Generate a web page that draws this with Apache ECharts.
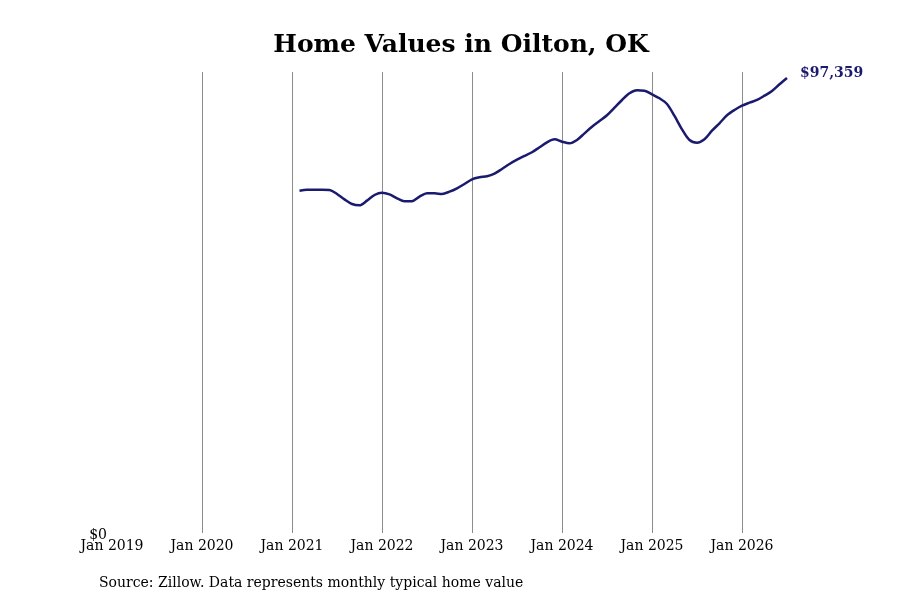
<!DOCTYPE html>
<html>
<head>
<meta charset="utf-8">
<title>Home Values in Oilton, OK</title>
<script src="https://cdn.jsdelivr.net/npm/echarts@6/dist/echarts.min.js"></script>
<style>
  html, body { margin: 0; padding: 0; background: #fff; }
  #chart { width: 900px; height: 600px; }
</style>
</head>
<body>
<div id="chart"></div>
<script>
// 年份刻度标签 (x 轴按月计数, 0 = Jan 2019)
const yearLabels = ['Jan 2019', 'Jan 2020', 'Jan 2021', 'Jan 2022', 'Jan 2023', 'Jan 2024', 'Jan 2025', 'Jan 2026'];

// 第一个数据点的月份序号 (Feb 2021)
const startMonth = 25;

// 每月典型房价 (Feb 2021 - Jul 2026)
const homeValues = [
    73250, 73470, 73470, 73470, 73400, 72550, 71400, 70400, 70130, 71120, 72330,
    72830, 72480, 71620, 70980, 71000, 71970, 72690, 72690, 72550, 73040, 73760, 74690,
    75690, 76120, 76330, 76900, 77900, 78970, 79900, 80680, 81470, 82540, 83610, 84250,
    83740, 83390, 84100, 85530, 86950, 88170, 89390, 91010, 92660, 94090, 94730, 94660,
    93880, 93020, 91800, 89240, 86390, 84100, 83530, 84250, 86090, 87680, 89390, 90520,
    91440, 92080, 92660, 93580, 94590, 96020, 97359
];

document.addEventListener('DOMContentLoaded', function() {
    initHomeValueChart();
});

function initHomeValueChart() {
    const chart = echarts.init(document.getElementById('chart'));

    const seriesData = homeValues.map((v, i) => [startMonth + i, v]);
    const lastMonth = startMonth + homeValues.length - 1;

    const option = {
        backgroundColor: '#fff',
        animation: false,
        title: [{
            text: 'Home Values in Oilton, OK',
            left: 456,
            top: 28,
            textAlign: 'center',
            textStyle: {
                fontFamily: 'DejaVu Serif',
                fontWeight: 'bold',
                fontSize: 25,
                color: '#000'
            }
        }, {
            text: 'Source: Zillow. Data represents monthly typical home value',
            left: 94,
            top: 571,
            textStyle: {
                fontFamily: 'DejaVu Serif',
                fontWeight: 'normal',
                fontSize: 14,
                color: '#000'
            }
        }],
        grid: {
            left: 112,
            right: 900 - 787,
            top: 72,
            bottom: 600 - 533
        },
        xAxis: {
            type: 'value',
            min: 0,
            max: lastMonth,
            interval: 12,
            axisLine: { show: false },
            axisTick: { show: false },
            axisLabel: {
                fontFamily: 'DejaVu Serif',
                fontSize: 14,
                color: '#000',
                margin: 6,
                formatter: function(v) {
                    return v % 12 === 0 ? (yearLabels[v / 12] || '') : '';
                }
            },
            splitLine: {
                show: true,
                showMinLine: false,
                showMaxLine: false,
                lineStyle: { color: '#8c8c8c', width: 1 }
            }
        },
        yAxis: {
            type: 'value',
            min: 0,
            max: 98650,
            interval: 98650,
            axisLine: { show: false },
            axisTick: { show: false },
            splitLine: { show: false },
            axisLabel: {
                fontFamily: 'DejaVu Serif',
                fontSize: 14,
                color: '#000',
                margin: 5,
                verticalAlign: 'top',
                lineHeight: 4,
                formatter: function(v) {
                    return v === 0 ? '$0' : '';
                }
            }
        },
        series: [{
            type: 'line',
            data: seriesData,
            smooth: 0.3,
            symbol: 'none',
            lineStyle: { color: '#1a1a6e', width: 2.5 },
            endLabel: {
                show: true,
                distance: 13,
                offset: [0, -5],
                fontFamily: 'DejaVu Serif',
                fontWeight: 'bold',
                fontSize: 14,
                color: '#1a1a6e',
                formatter: function(p) {
                    return '$' + p.value[1].toLocaleString('en-US');
                }
            }
        }]
    };

    chart.setOption(option);

    window.addEventListener('resize', function() {
        chart.resize();
    });
}
</script>
</body>
</html>
